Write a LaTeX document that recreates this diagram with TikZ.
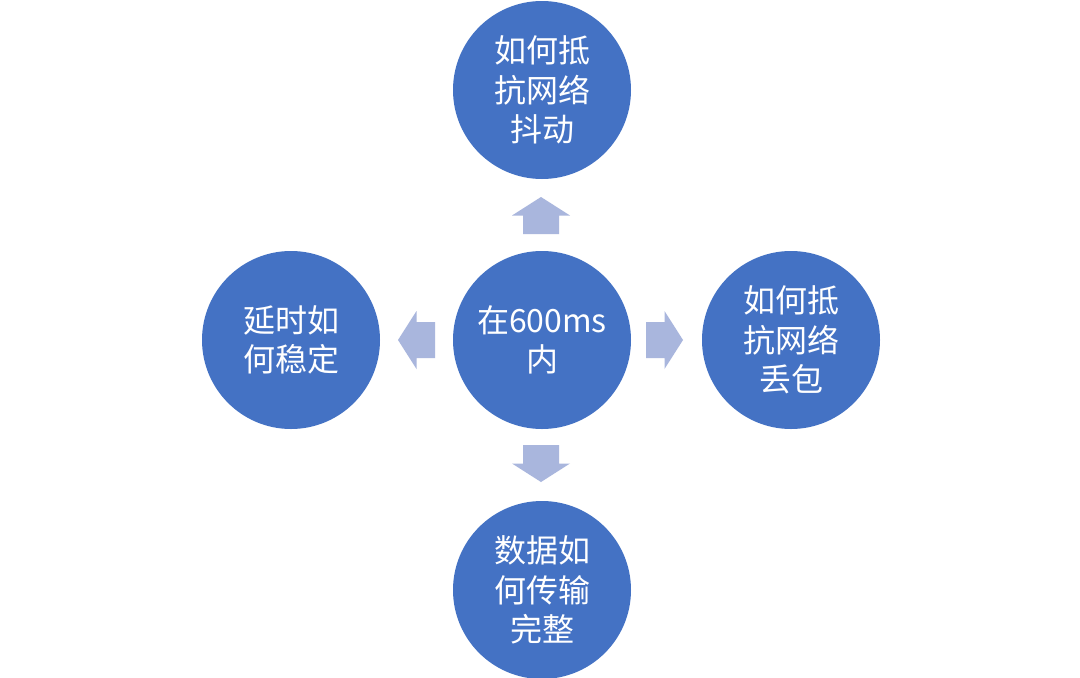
\documentclass[tikz,border=0pt]{standalone}
\usepackage{fontspec}
\newfontfamily\cjk{Noto Sans CJK SC}
\definecolor{ballblue}{RGB}{68,114,196}
\definecolor{arrowblue}{RGB}{169,182,221}
\tikzset{
  ball/.style={circle, fill=ballblue, minimum size=178pt, inner sep=0pt,
    text=white, align=center, font=\cjk\fontsize{32}{39.5}\selectfont},
  blockarrow/.style={fill=arrowblue}
}
\newcommand{\blockarrowpath}{(0,-18)--(18.5,-18)--(18.5,-29)--(37,0)--(18.5,29)--(18.5,18)--(0,18)--cycle}
\begin{document}
\begin{tikzpicture}[x=1pt, y=-1pt]
  \fill[white] (0,0) rectangle (1080,678);
  \clip (0,0) rectangle (1080,678);
  \coordinate (C) at (542,340);
  \coordinate (T) at (542,90);
  \coordinate (B) at (542,590);
  \coordinate (L) at (291,340);
  \coordinate (R) at (791,340);

  \node[ball] (mid)    at (C) {在600ms\\内};
  \node[ball] (top)    at (T) {如何抵\\抗网络\\抖动};
  \node[ball] (bottom) at (B) {数据如\\何传输\\完整};
  \node[ball] (left)   at (L) {延时如\\何稳定};
  \node[ball] (right)  at (R) {如何抵\\抗网络\\丢包};

  \fill[blockarrow, shift={(541,234)}, rotate=90]  \blockarrowpath;
  \fill[blockarrow, shift={(541,445)}, rotate=-90] \blockarrowpath;
  \fill[blockarrow, shift={(435,340)}, rotate=180] \blockarrowpath;
  \fill[blockarrow, shift={(646,340)}]             \blockarrowpath;
\end{tikzpicture}
\end{document}
